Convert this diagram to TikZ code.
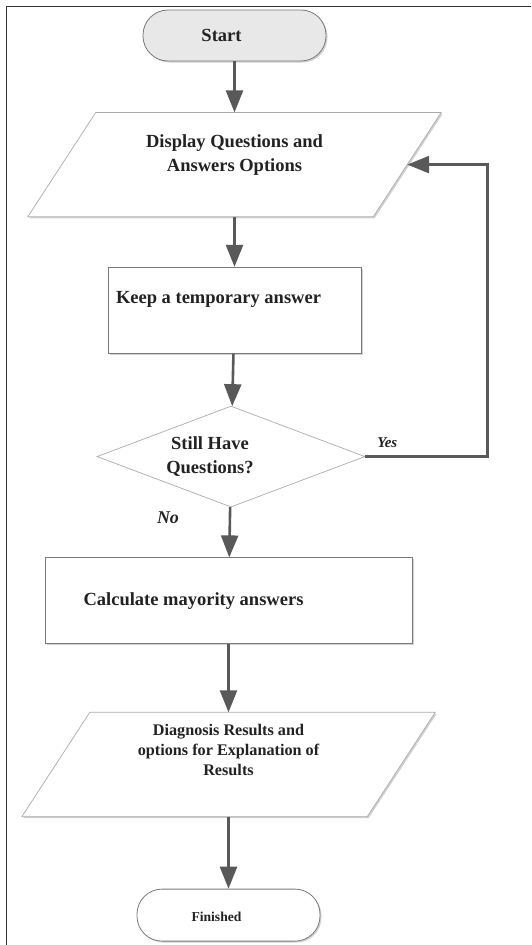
\documentclass[tikz,border=0pt]{standalone}
\usepackage{fontspec}
\setmainfont{Liberation Serif}
\usetikzlibrary{arrows.meta}
\usetikzlibrary{positioning}
\usetikzlibrary{shapes.geometric}
\usetikzlibrary{shadows}
\usetikzlibrary{backgrounds}

\definecolor{arrowgray}{HTML}{595959}
\definecolor{edgegray}{HTML}{7A7A7A}
\definecolor{lightedge}{HTML}{ABABAB}
\definecolor{startfill}{HTML}{E8E8E8}
\definecolor{inkgray}{HTML}{222222}

\tikzset{
  soft shadow/.style={drop shadow={shadow xshift=1.5pt,shadow yshift=-1.5pt,fill=black,opacity=0.18}},
  terminal/.style={rectangle, rounded corners=25pt, draw=edgegray, line width=0.8pt,
    minimum width=183pt, minimum height=51pt, soft shadow, fill=white},
  io/.style={rectangle, minimum width=345pt, minimum height=104pt, inner sep=0pt},
  iobox/.style={draw=lightedge, line width=0.7pt, fill=white, soft shadow},
  process/.style={rectangle, draw=edgegray, line width=0.9pt, soft shadow, fill=white},
  decision/.style={diamond, draw=lightedge, line width=0.7pt,
    minimum width=268pt, minimum height=101pt, inner sep=0pt, fill=white},
  txt/.style={text=inkgray, font=\bfseries\fontsize{18.5}{24}\selectfont, align=center},
  flow/.style={draw=arrowgray, line width=2.6pt, -{Triangle[width=17pt,length=22pt]}},
  lbl/.style={text=inkgray, font=\bfseries\itshape}
}

\begin{document}
\begin{tikzpicture}

  \useasboundingbox (0pt,0pt) rectangle (531pt,-945pt);
  \draw[color=black!80, line width=1pt] (6.5pt,-945pt) -- (6.5pt,-6.5pt) -- (531pt,-6.5pt);

  \node[terminal, fill=startfill,
        label={[txt, xshift=-13pt]center:Start}] (start) at (234.5pt,-35.5pt) {};
  \node[io, below = 51pt of start,
        label={[txt, yshift=10pt]center:Display Questions and\\Answers Options}] (disp) {};
  \node[process, minimum width=253pt, minimum height=86pt, below = 50pt of disp,
        label={[txt, xshift=-16pt, yshift=11pt]center:Keep a temporary answer}] (keep) {};
  \node[decision, below = 52pt of keep, xshift=-3.5pt,
        label={[txt, xshift=-21pt]center:Still Have\\Questions?}] (ask) {};
  \node[process, minimum width=367pt, minimum height=86pt, below = 50pt of ask, xshift=-2.5pt,
        label={[txt, xshift=-35pt]center:Calculate mayority answers}] (calc) {};
  \node[io, below = 68pt of calc,
        label={[txt, font=\bfseries\fontsize{16.2}{20}\selectfont, yshift=15pt]center:Diagnosis Results and\\options for Explanation of\\Results}] (diag) {};
  \node[terminal, minimum height=52pt, below = 72pt of diag,
        label={[txt, font=\bfseries\fontsize{13.6}{16}\selectfont, xshift=-12pt, yshift=-2pt]center:Finished}] (fin) {};

  \node[lbl, font=\bfseries\itshape\fontsize{18}{20}\selectfont] (no) at ([xshift=-63pt, yshift=-10pt]ask.south) {No};

  % slanted input/output boxes
  \begin{scope}[on background layer]
    \foreach \n in {disp, diag}
      \draw[iobox] ([xshift=34pt]\n.north west) -- ([xshift=34pt]\n.north east)
        -- ([xshift=-34pt]\n.south east) -- ([xshift=-34pt]\n.south west) -- cycle;
  \end{scope}

  \draw[flow] (start) -- (disp);
  \draw[flow] (disp) -- (keep);
  \draw[flow] (keep) -- (ask);
  \draw[flow] (ask) -- (calc);
  \draw[flow] (calc) -- (diag);
  \draw[flow] (diag) -- (fin);
  \draw[flow] (ask.east) -- node[lbl, pos=0.18, above=4pt, font=\bfseries\itshape\fontsize{15}{18}\selectfont] {Yes} ++(122pt,0) |- (disp);

\end{tikzpicture}
\end{document}
